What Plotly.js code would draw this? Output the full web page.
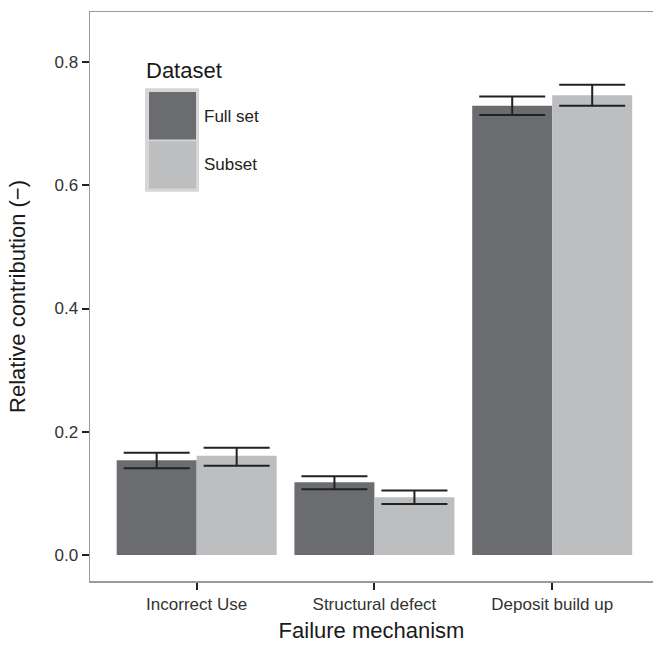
<!DOCTYPE html>
<html>
<head>
<meta charset="utf-8">
<script src="https://cdn.plot.ly/plotly-3.0.1.min.js"></script>
<style>html,body{margin:0;padding:0;background:#fff;}#chart{width:653px;height:645px;}</style>
</head>
<body>
<div id="chart"></div>
<script>
// Data
const categories = ["Incorrect Use", "Structural defect", "Deposit build up"];
const fullSetValues = [0.154, 0.118, 0.729];
const fullSetUpper  = [0.166, 0.128, 0.744];
const fullSetLower  = [0.141, 0.107, 0.714];
const subsetValues  = [0.161, 0.094, 0.746];
const subsetUpper   = [0.174, 0.105, 0.763];
const subsetLower   = [0.145, 0.083, 0.729];
const seriesNames = ["Full set", "Subset"];
const yTickValues = [0.0, 0.2, 0.4, 0.6, 0.8];
const yTickLabels = ["0.0", "0.2", "0.4", "0.6", "0.8"];

const colFull = "#6b6c70";
const colSub = "#bdbec0";
const FONT = "Liberation Sans, Arial, sans-serif";

function errBar(vals, up, lo) {
  return {
    type: "data", symmetric: false,
    array: up.map((u, i) => u - vals[i]),
    arrayminus: lo.map((l, i) => vals[i] - l),
    color: "#222222", thickness: 2, width: 33
  };
}

const traces = [
  { type: "bar", name: seriesNames[0], x: categories, y: fullSetValues,
    marker: { color: colFull, line: { width: 0 } },
    error_y: errBar(fullSetValues, fullSetUpper, fullSetLower), hoverinfo: "none" },
  { type: "bar", name: seriesNames[1], x: categories, y: subsetValues,
    marker: { color: colSub, line: { width: 0 } },
    error_y: errBar(subsetValues, subsetUpper, subsetLower), hoverinfo: "none" }
];

// plot area: x 90..653, y 12..581
const L = 90, T = 12, W = 563, H = 569;
const px = v => (v - L) / W;
const py = v => (T + H - v) / H;

const layout = {
  width: 653, height: 645,
  margin: { l: L, r: 653 - L - W, t: T, b: 645 - T - H, pad: 0 },
  paper_bgcolor: "#ffffff", plot_bgcolor: "#ffffff",
  font: { family: FONT, color: "#333333", size: 17 },
  barmode: "group", bargap: 0.1, bargroupgap: 0,
  showlegend: false,
  xaxis: {
    type: "category", range: [-0.6, 2.567],
    showline: true, linecolor: "#9a9a9a", linewidth: 1.5, mirror: true,
    ticks: "outside", ticklen: 7, tickwidth: 2, tickcolor: "#222222",
    showgrid: false, zeroline: false,
    tickfont: { family: FONT, size: 17, color: "#333333" },
    title: { text: "Failure mechanism", font: { family: FONT, size: 22, color: "#1a1a1a" }, standoff: 9 }
  },
  yaxis: {
    range: [-0.042, 0.881],
    tickvals: yTickValues, ticktext: yTickLabels,
    showline: true, linecolor: "#9a9a9a", linewidth: 1.5,
    ticks: "outside", ticklen: 7, tickwidth: 2, tickcolor: "#222222",
    showgrid: false, zeroline: false,
    tickfont: { family: FONT, size: 17, color: "#333333" },
    title: { text: "Relative contribution (−)", font: { family: FONT, size: 22, color: "#1a1a1a" }, standoff: 23 }
  },
  shapes: [
    { type: "rect", xref: "paper", yref: "paper", x0: px(145), x1: px(199), y0: py(191.7), y1: py(88.3),
      fillcolor: "#d6d6d6", line: { width: 0 } },
    { type: "rect", xref: "paper", yref: "paper", x0: px(149), x1: px(196), y0: py(139.6), y1: py(92),
      fillcolor: colFull, line: { width: 0 } },
    { type: "rect", xref: "paper", yref: "paper", x0: px(149), x1: px(196), y0: py(188.5), y1: py(141.2),
      fillcolor: colSub, line: { width: 0 } }
  ],
  annotations: [
    { xref: "paper", yref: "paper", x: px(144), y: py(70), xanchor: "left", yanchor: "middle",
      text: "Dataset", showarrow: false, font: { family: FONT, size: 22, color: "#1a1a1a" } },
    { xref: "paper", yref: "paper", x: px(202), y: py(116), xanchor: "left", yanchor: "middle",
      text: seriesNames[0], showarrow: false, font: { family: FONT, size: 17, color: "#222222" } },
    { xref: "paper", yref: "paper", x: px(202), y: py(165), xanchor: "left", yanchor: "middle",
      text: seriesNames[1], showarrow: false, font: { family: FONT, size: 17, color: "#222222" } }
  ]
};

Plotly.newPlot("chart", traces, layout, { displayModeBar: false, staticPlot: true });
</script>
</body>
</html>
